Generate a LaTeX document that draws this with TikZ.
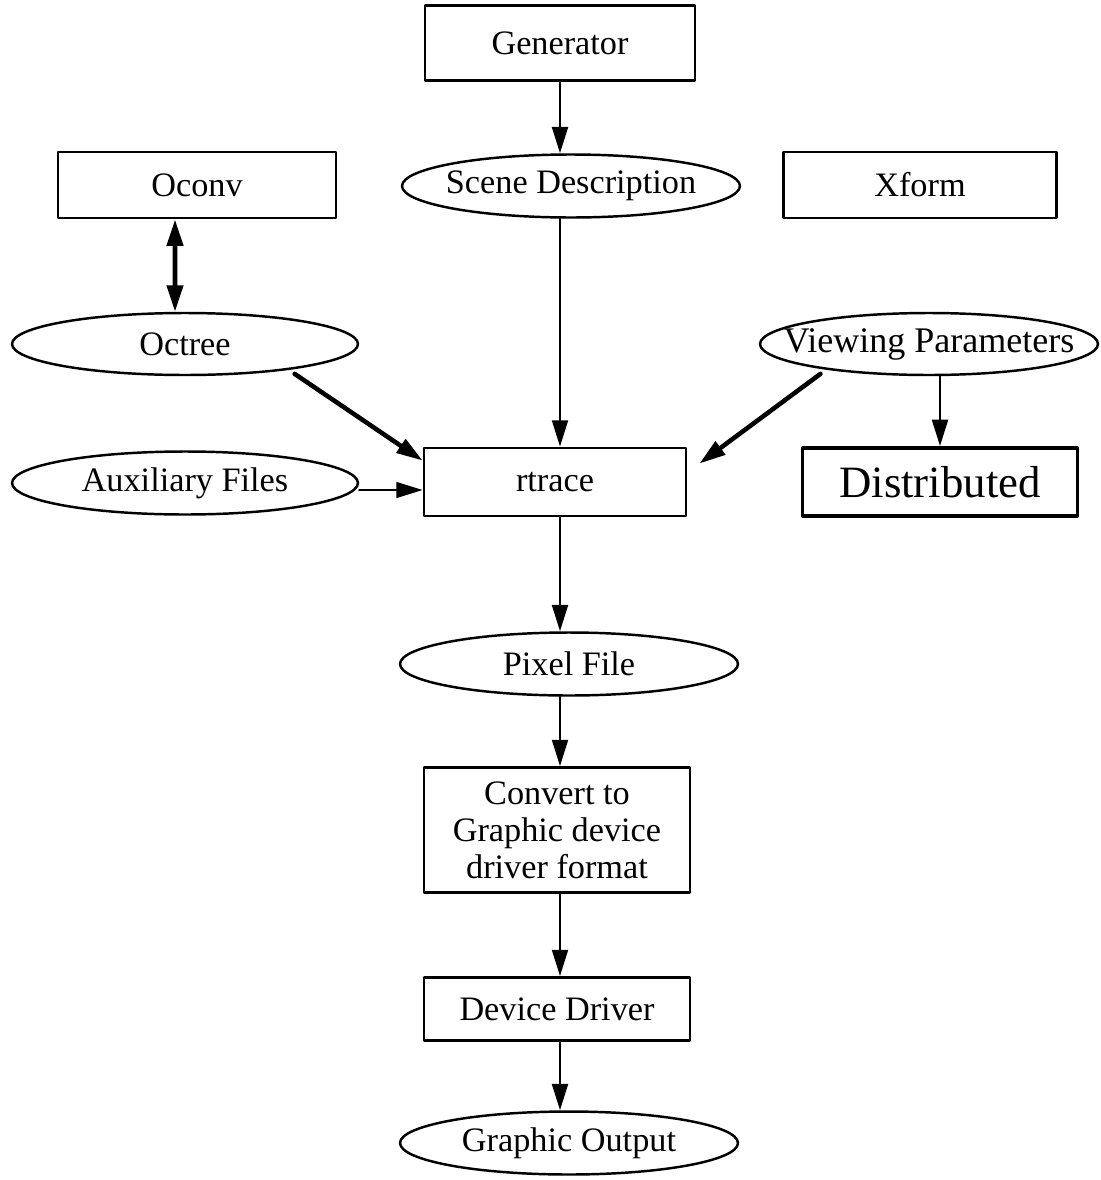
\documentclass[tikz,border=0pt]{standalone}
\usepackage{fontspec}
\setmainfont{Liberation Serif}
\usetikzlibrary{arrows.meta,shapes.geometric}

\begin{document}
\begin{tikzpicture}[line cap=round,line join=round,>={Triangle[length=15pt,width=9pt]},x=0.02cm,y=-0.02cm]
\tikzset{
  box/.style={draw,rectangle,line width=1.6pt,inner sep=0pt,align=center,font=\fontsize{19.5}{21}\selectfont},
  oval/.style={draw,ellipse,line width=1.4pt,inner xsep=-0.4cm,inner ysep=0pt,minimum width=6.76cm,minimum height=1.26cm,font=\fontsize{19.5}{21}\selectfont},
  flow/.style={->,line width=1.5pt},
  heavyflow/.style={->,line width=2.6pt},
  thinflow/.style={->,line width=1.2pt}
}
\useasboundingbox (0,0) rectangle (1100,1180);
% top row
\node[box,minimum width=5.4cm,minimum height=1.5cm] (gen) at (560,43) {Generator};
\node[oval] (scene) at (571,186) {Scene Description};
\node[box,minimum width=5.56cm,minimum height=1.32cm] (oconv) at (197,185) {Oconv};
\node[box,minimum width=5.46cm,minimum height=1.32cm] (xform) at (920,185) {Xform};
% inputs of rtrace
\node[oval,minimum width=6.92cm,minimum height=1.24cm] (octree) at (185,344) {Octree};
\node[oval,inner xsep=-0.65cm,minimum height=1.24cm,font=\fontsize{20.5}{22}\selectfont] (view) at (929,344) {Viewing Parameters};
\node[oval,minimum width=6.92cm] (aux) at (185,483) {Auxiliary Files};
\node[box,minimum width=5.24cm,minimum height=1.36cm] (rtrace) at (555,482) {rtrace};
\node[box,line width=2.2pt,minimum width=5.5cm,minimum height=1.36cm,font=\fontsize{25.5}{28}\selectfont] (dist) at (940,482) {Distributed};
% output chain
\node[oval] (pixel) at (569,664) {Pixel File};
\node[box,minimum width=5.32cm,minimum height=2.5cm] (conv) at (557,830) {Convert to\\Graphic device\\driver format};
\node[box,minimum width=5.32cm,minimum height=1.26cm] (driver) at (557,1009) {Device Driver};
\node[oval] (out) at (569,1143) {Graphic Output};

\draw[flow] (gen.south) -- (gen.south |- scene.north);
\draw[heavyflow,<->] ([xshift=-0.44cm]oconv.south) -- ([xshift=-0.2cm]octree.north);
\draw[flow] (scene.south -| gen) -- (rtrace.north -| gen);
\draw[heavyflow,shorten <=4pt] (octree.-14) -- ([yshift=-0.28cm]rtrace.north west);
\draw[heavyflow,shorten <=4pt] (view.194) -- ([xshift=0.24cm,yshift=-0.34cm]rtrace.north east);
\draw[flow] (view.south -| dist) -- (dist.north);
\draw[thinflow] ([yshift=-0.14cm]aux.east) -- ([yshift=-0.16cm]rtrace.west);
\draw[flow] (rtrace.south -| gen) -- (pixel.north -| gen);
\draw[flow] (pixel.south -| gen) -- (conv.north -| gen);
\draw[flow] (conv.south -| gen) -- (driver.north -| gen);
\draw[flow] (driver.south -| gen) -- (out.north -| gen);
\end{tikzpicture}
\end{document}
